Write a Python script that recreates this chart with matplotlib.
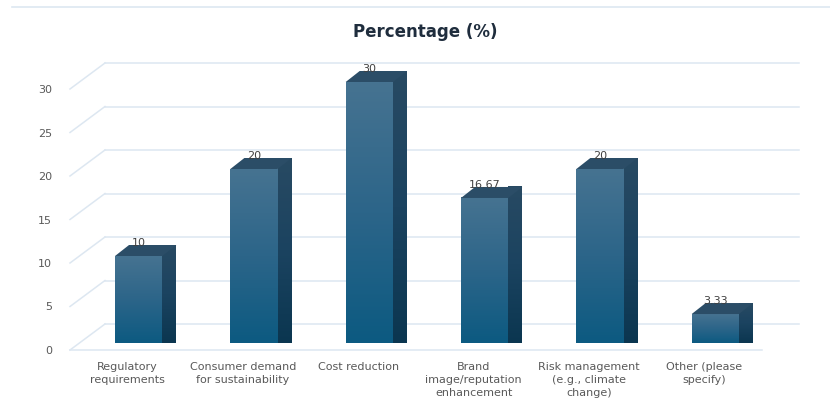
import matplotlib
matplotlib.use("Agg")
import matplotlib.pyplot as plt
import numpy as np
from matplotlib.patches import Polygon, Rectangle
from matplotlib.colors import LinearSegmentedColormap

categories = ["Regulatory\nrequirements", "Consumer demand\nfor sustainability",
              "Cost reduction", "Brand\nimage/reputation\nenhancement",
              "Risk management\n(e.g., climate\nchange)", "Other (please\nspecify)"]
values = [10, 20, 30, 16.67, 20, 3.33]
value_labels = ["10", "20", "30", "16.67", "20", "3.33"]
yticks = [0, 5, 10, 15, 20, 25, 30]

W, H = 830, 412
fig = plt.figure(figsize=(W / 100, H / 100), dpi=100)
fig.patch.set_facecolor("white")

left_px, right_px, y0_px, y30_px = 70, 762, 350, 89
ax = fig.add_axes([left_px / W, (H - y0_px) / H, (right_px - left_px) / W, (y0_px - y30_px) / H])
ax.set_xlim(-0.5, len(categories) - 0.5)
ax.set_ylim(0, 30)
for s in ax.spines.values():
    s.set_visible(False)
ax.set_facecolor("none")

ux = (right_px - left_px) / (len(categories))
uy = (y0_px - y30_px) / 30.0
def dx(px): return px / ux
def dy(px): return px / uy

grid_c = "#dde7f1"
wdx, wdy = 35, 26
for t in yticks:
    ax.plot([-0.5 + dx(wdx), len(categories) - 0.5 + dx(wdx + 2)], [t + dy(wdy), t + dy(wdy)],
            color=grid_c, lw=1.1, clip_on=False, zorder=0)
    ax.plot([-0.5, -0.5 + dx(wdx)], [t, t + dy(wdy)], color=grid_c, lw=1.1, clip_on=False, zorder=0)
ax.plot([-0.5, len(categories) - 0.5], [0, 0], color=grid_c, lw=1.1, clip_on=False, zorder=0)

bw = 0.41
offx, offy = dx(11), dy(7)
sdx, sdy = dx(14), dy(11)
grad = np.linspace(0, 1, 256).reshape(-1, 1)
front_cmap = LinearSegmentedColormap.from_list("f", ["#0c5a81", "#2c6589", "#467391"])
side_cmap = LinearSegmentedColormap.from_list("s", ["#0b3650", "#1b4360", "#284a63"])
for i, v in enumerate(values):
    x0 = i - bw / 2 + offx
    x1 = i + bw / 2 + offx
    b = offy
    t = v + offy
    rect = Rectangle((x0, b), bw, v, facecolor="none", edgecolor="none", zorder=3, clip_on=False)
    ax.add_patch(rect)
    im = ax.imshow(grad, extent=[x0, x1, b, t], origin="lower", cmap=front_cmap, aspect="auto",
                   zorder=3, clip_on=False)
    im.set_clip_path(rect)
    side = Polygon([(x1, b), (x1 + sdx, b + sdy), (x1 + sdx, t + sdy), (x1, t)], closed=True,
                   facecolor="none", edgecolor="none", zorder=3, clip_on=False)
    ax.add_patch(side)
    im2 = ax.imshow(grad, extent=[x1, x1 + sdx, b, t + sdy], origin="lower", cmap=side_cmap,
                    aspect="auto", zorder=3, clip_on=False)
    im2.set_clip_path(side)
    top = Polygon([(x0, t), (x1, t), (x1 + sdx, t + sdy), (x0 + sdx, t + sdy)], closed=True,
                  facecolor="#2b4d67", edgecolor="none", zorder=4, clip_on=False)
    ax.add_patch(top)
    ax.text(i + offx, t + dy(13), value_labels[i], ha="center", va="center", fontsize=8,
            color="#404040", zorder=5)

ax.set_xticks(range(len(categories)))
ax.set_xticklabels(categories, fontsize=8, color="#595959", linespacing=1.35)
ax.set_yticks(yticks)
ax.set_yticklabels([str(t) for t in yticks], fontsize=8, color="#595959")
ax.tick_params(axis="both", length=0)
ax.tick_params(axis="x", pad=9)
ax.tick_params(axis="y", pad=13)
ax.set_ylim(0, 30)
ax.set_xlim(-0.5, len(categories) - 0.5)

fig.text(425 / W, 1 - 32 / H, "Percentage (%)", ha="center", va="center", fontsize=12,
         fontweight="bold", color="#1f2d3d")
fig.add_artist(plt.Line2D([12 / W, 1], [1 - 7 / H, 1 - 7 / H], color="#dde7f1", lw=1.2))

fig.savefig("out.png", dpi=100, facecolor="white")
